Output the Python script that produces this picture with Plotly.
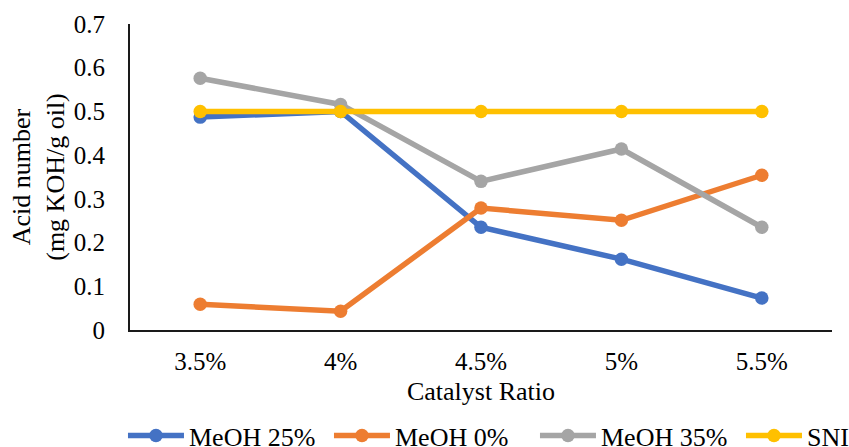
import plotly.graph_objects as go

# Catalyst ratio categories and acid numbers (mg KOH/g oil)
catalyst_ratio = ["3.5%", "4%", "4.5%", "5%", "5.5%"]
meoh_25 = [0.487, 0.500, 0.235, 0.162, 0.073]
meoh_0 = [0.059, 0.043, 0.279, 0.251, 0.354]
meoh_35 = [0.576, 0.516, 0.340, 0.414, 0.235]
sni = [0.5, 0.5, 0.5, 0.5, 0.5]

series = [
    ("MeOH 25%", meoh_25, "#4472C4"),
    ("MeOH 0%", meoh_0, "#ED7D31"),
    ("MeOH 35%", meoh_35, "#A5A5A5"),
    ("SNI", sni, "#FFC000"),
]

FONT = "Liberation Serif"

fig = go.Figure()
for name, vals, color in series:
    fig.add_trace(go.Scatter(
        x=catalyst_ratio, y=vals, name=name, mode="lines+markers",
        line=dict(color=color, width=5.5),
        marker=dict(color=color, size=13.5),
    ))

fig.update_layout(
    width=849, height=447,
    margin=dict(l=130, r=17, t=24, b=117, autoexpand=False),
    paper_bgcolor="white", plot_bgcolor="white",
    font=dict(family=FONT, size=25, color="black"),
    showlegend=True,
    legend=dict(
        orientation="h", x=-0.01, xanchor="left", y=-0.268, yanchor="top",
        font=dict(family=FONT, size=26, color="black"),
        itemwidth=56, entrywidth=135, entrywidthmode="pixels",
        bgcolor="rgba(0,0,0,0)",
    ),
)

fig.update_xaxes(
    type="category", range=[-0.5, 4.5],
    showline=True, linecolor="#1a1a1a", linewidth=2,
    showgrid=False, zeroline=False, ticks="",
    ticklabelstandoff=8,
    tickfont=dict(family=FONT, size=25),
    title=dict(text="Catalyst Ratio", font=dict(family=FONT, size=26), standoff=8),
)
fig.update_yaxes(
    range=[0, 0.7], dtick=0.1,
    showline=True, linecolor="#1a1a1a", linewidth=2,
    showgrid=False, zeroline=False, ticks="",
    ticklabelstandoff=18,
    tickfont=dict(family=FONT, size=25),
    title=dict(text="Acid number<br>(mg KOH/g oil)", font=dict(family=FONT, size=26), standoff=2),
)

fig.write_html("out.html")
